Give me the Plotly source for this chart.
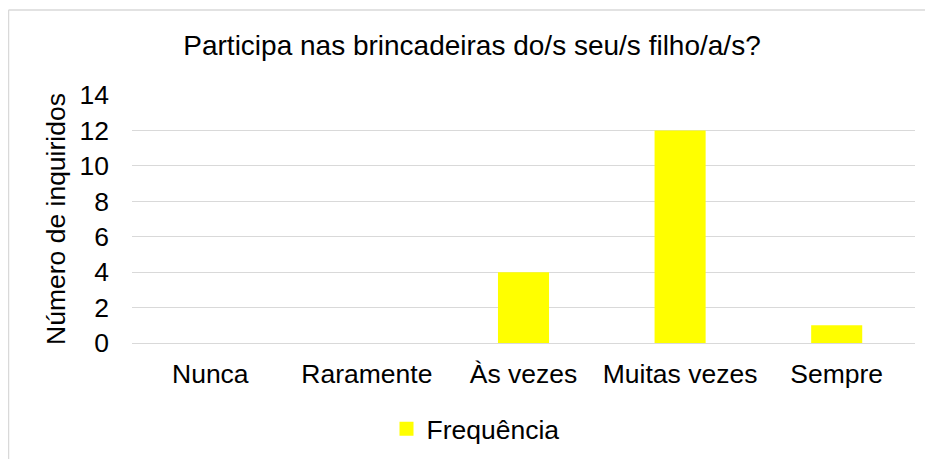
import plotly.graph_objects as go

categories = ["Nunca", "Raramente", "Às vezes", "Muitas vezes", "Sempre"]
frequencia = [0, 0, 4, 12, 1]
y_ticks = [0, 2, 4, 6, 8, 10, 12, 14]

title_text = "Participa nas brincadeiras do/s seu/s filho/a/s?"
y_title = "Número de inquiridos"
series_name = "Frequência"

FONT = "Liberation Sans, Arial, sans-serif"
GRID = "#d9d9d9"
YELLOW = "#ffff00"

# page body has an 8px default margin; figure is sized to fill the window
W, H = 925, 451
L, R, T, B = 124, 18, 87, 116
PW, PH = W - L - R, H - T - B

fig = go.Figure()
fig.add_trace(go.Bar(
    x=categories, y=frequencia, name=series_name,
    marker=dict(color=YELLOW, line=dict(width=0)),
    width=0.326, showlegend=False,
))
# legend entry with a larger square symbol
fig.add_trace(go.Scatter(
    x=[None], y=[None], mode="markers", name=series_name,
    marker=dict(symbol="square", size=14, color=YELLOW, line=dict(width=0)),
    showlegend=True, hoverinfo="skip",
))

fig.update_layout(
    width=W, height=H,
    margin=dict(l=L, r=R, t=T, b=B, autoexpand=False),
    paper_bgcolor="white", plot_bgcolor="white",
    font=dict(family=FONT, size=26.5, color="#000000"),
    title=dict(text=title_text, x=464/W, xanchor="center",
               y=1 - 37/H, yanchor="middle", yref="container",
               font=dict(size=28, color="#000000")),
    showlegend=True,
    legend=dict(orientation="h", x=(378.5 - L) / PW, xanchor="left",
                y=(PH - (421 - T)) / PH, yanchor="middle",
                font=dict(size=26.5), bgcolor="rgba(0,0,0,0)",
                itemwidth=30),
)
fig.update_xaxes(showline=False, showgrid=False, zeroline=False,
                 ticks="", ticklabelstandoff=12, tickfont=dict(size=26.5),
                 fixedrange=True)
fig.update_yaxes(range=[0, 14], tickvals=y_ticks, showgrid=True,
                 gridcolor=GRID, gridwidth=1.3, zeroline=True,
                 zerolinecolor=GRID, zerolinewidth=1.3, showline=False,
                 ticks="", ticklabelstandoff=22, tickfont=dict(size=26.5),
                 title=dict(text=y_title, standoff=6, font=dict(size=26.5)),
                 fixedrange=True)

# chart-area border (top and left visible in reference)
bx = (0.5 - L) / PW
by = (PH - (2 - T)) / PH
fig.add_shape(type="line", xref="paper", yref="paper", x0=bx, x1=1.2, y0=by, y1=by,
              line=dict(color=GRID, width=1.5))
fig.add_shape(type="line", xref="paper", yref="paper", x0=bx, x1=bx, y0=by, y1=-0.6,
              line=dict(color=GRID, width=1.5))

fig.write_html("out.html")
